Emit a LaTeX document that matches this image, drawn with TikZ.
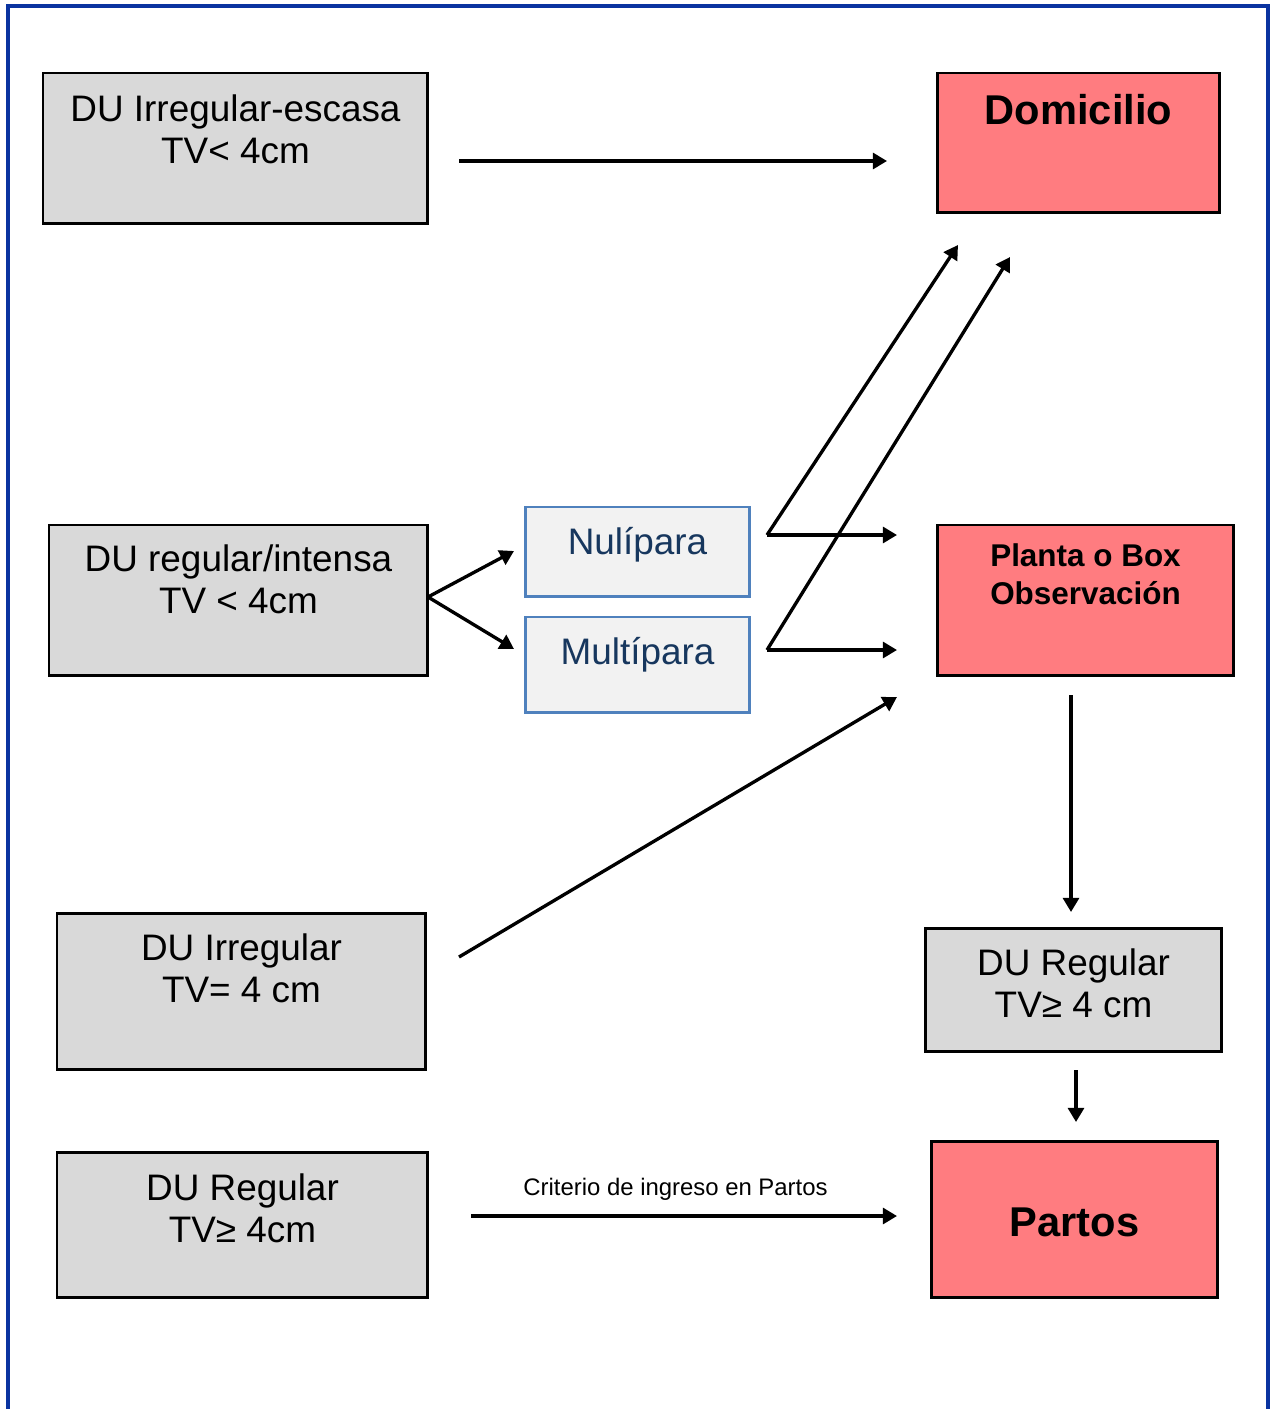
\documentclass[tikz,border=0pt]{standalone}
\usepackage{fontspec}
\setmainfont{Liberation Sans}
\usetikzlibrary{arrows.meta}

\definecolor{boxgray}{HTML}{D9D9D9}
\definecolor{boxred}{HTML}{FF7C80}
\definecolor{boxblue}{HTML}{4F81BD}
\definecolor{boxpale}{HTML}{F2F2F2}
\definecolor{textnavy}{HTML}{17375E}
\definecolor{frameblue}{HTML}{0A33A0}

\tikzset{
  graybox/.style={draw=black, line width=1.7pt, fill=boxgray, anchor=north west, inner sep=0pt, outer sep=0pt},
  redbox/.style={draw=black, line width=1.7pt, fill=boxred, anchor=north west, inner sep=0pt, outer sep=0pt},
  bluebox/.style={draw=boxblue, line width=1.7pt, fill=boxpale, anchor=north west, inner sep=0pt, outer sep=0pt},
  txt/.style={align=center, inner sep=0pt, font=\fontsize{21}{23.8}\selectfont},
  boldtxt/.style={align=center, inner sep=0pt, font=\fontsize{23.7}{27}\selectfont\bfseries},
  arr/.style={line width=1.9pt, -{Triangle[length=8pt,width=9pt]}},
}

\begin{document}
\begin{tikzpicture}[x=0.02cm, y=-0.02cm]
    \useasboundingbox (0,0) rectangle (1274,1409);

    % Outer frame (open at the bottom)
    \draw[frameblue, line width=2pt] (8,1409) -- (8,6) -- (1268,6) -- (1268,1409);

    % Left column
    \node[graybox, minimum width=7.70cm, minimum height=3.02cm] (escasa) at (43,73) {};
    \node[txt, anchor=north] (escasaT) at (235.5,94.7) {DU Irregular-escasa\\TV< 4cm};

    \node[graybox, minimum width=7.58cm, minimum height=3.02cm] (intensa) at (49,525) {};
    \node[txt, anchor=north] (intensaT) at (238.5,544.7) {DU regular/intensa\\TV < 4cm};

    \node[graybox, minimum width=7.38cm, minimum height=3.14cm] (irreg) at (57,913) {};
    \node[txt, anchor=north] (irregT) at (241.5,933.7) {DU Irregular\\TV= 4 cm};

    \node[graybox, minimum width=7.42cm, minimum height=2.92cm] (regular) at (57,1152) {};
    \node[txt, anchor=north] (regularT) at (242.5,1173.7) {DU Regular\\TV≥ 4cm};

    % Parity boxes
    \node[bluebox, minimum width=4.50cm, minimum height=1.80cm] (nuli) at (525,507) {};
    \node[txt, anchor=base, text=textnavy] (nuliT) at (637.5,554.3) {Nulípara};

    \node[bluebox, minimum width=4.50cm, minimum height=1.92cm] (multi) at (525,617) {};
    \node[txt, anchor=base, text=textnavy] (multiT) at (637.5,664.3) {Multípara};

    % Right column
    \node[redbox, minimum width=5.66cm, minimum height=2.80cm] (domi) at (937,73) {};
    \node[boldtxt, anchor=base] (domiT) at (1078.5,125) {Domicilio};

    \node[redbox, minimum width=5.94cm, minimum height=3.02cm] (planta) at (937,525) {};
    \node[boldtxt, anchor=north, font=\fontsize{17.9}{21.5}\selectfont\bfseries] (plantaT) at (1085.5,543.7) {Planta o Box\\Observación};

    \node[graybox, minimum width=5.94cm, minimum height=2.48cm] (regder) at (925,928) {};
    \node[txt, anchor=north] (regderT) at (1073.5,948.7) {DU Regular\\TV≥ 4 cm};

    \node[redbox, minimum width=5.74cm, minimum height=3.14cm] (partos) at (931,1141) {};
    \node[boldtxt, anchor=base] (partosT) at (1074.5,1236) {Partos};

    % Connector end points
    \coordinate (escasaOut) at (459,161);
    \coordinate (domiIn) at (887,161);
    \coordinate (split) at (428,597);
    \coordinate (nuliIn) at (514,551);
    \coordinate (multiIn) at (514,649);
    \coordinate (nuliOut) at (767,535);
    \coordinate (multiOut) at (767,650);
    \coordinate (domiInA) at (958,245);
    \coordinate (domiInB) at (1010,257);
    \coordinate (plantaInA) at (897,535);
    \coordinate (plantaInB) at (897,650);
    \coordinate (irregOut) at (459,957);
    \coordinate (plantaInC) at (897,697);
    \coordinate (plantaOut) at (1071,695);
    \coordinate (regderIn) at (1071,912);
    \coordinate (regderOut) at (1076,1070);
    \coordinate (partosInA) at (1076,1122);
    \coordinate (regularOut) at (471,1216);
    \coordinate (partosInB) at (897,1216);

    % Arrows
    \draw[arr] (escasaOut) -- (domiIn);
    \draw[arr] (split) -- (nuliIn);
    \draw[arr] (split) -- (multiIn);
    \draw[arr] (nuliOut) -- (plantaInA);
    \draw[arr] (nuliOut) -- (domiInA);
    \draw[arr] (multiOut) -- (plantaInB);
    \draw[arr] (multiOut) -- (domiInB);
    \draw[arr] (irregOut) -- (plantaInC);
    \draw[arr] (plantaOut) -- (regderIn);
    \draw[arr] (regderOut) -- (partosInA);
    \draw[arr] (regularOut) -- (partosInB);
    \node[inner sep=0pt, anchor=base, font=\fontsize{13.6}{16}\selectfont] (criterio) at (675.5,1195.6) {Criterio de ingreso en Partos};
\end{tikzpicture}
\end{document}
